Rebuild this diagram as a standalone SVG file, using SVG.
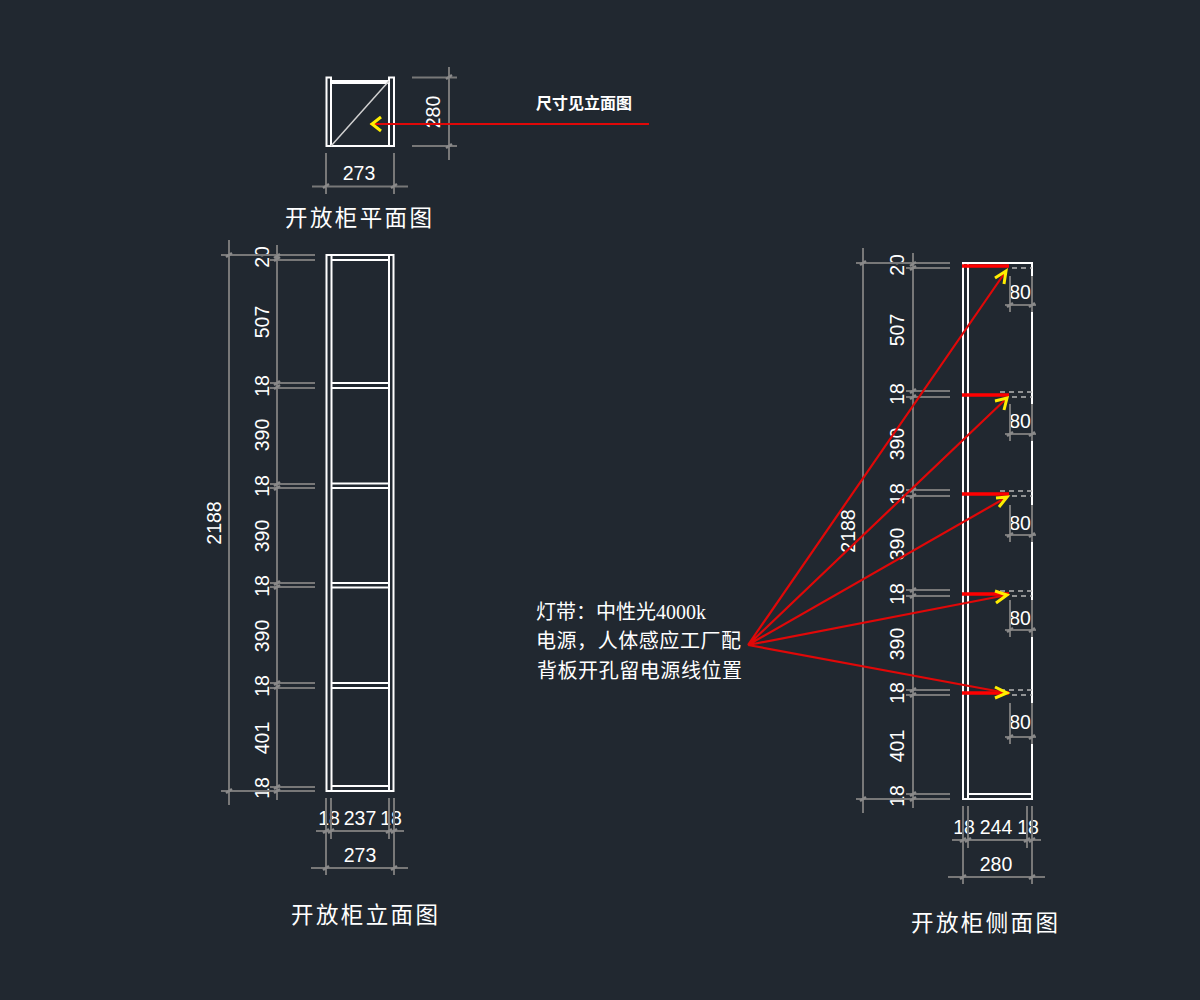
<svg xmlns="http://www.w3.org/2000/svg" width="1200" height="1000" viewBox="0 0 1200 1000">
<style>
.o{fill:none;stroke:#fff;stroke-width:2}
.t{fill:none;stroke:#d0d0d0;stroke-width:1.500}
.d{fill:none;stroke:#787878;stroke-width:2}
.k{fill:none;stroke:#8a8a8a;stroke-width:2.500}
.da{fill:none;stroke:#b5b5b5;stroke-width:1.500;stroke-dasharray:5 4}
.r{fill:none;stroke:#e00808;stroke-width:2.200}
.b{fill:none;stroke:#ff0000;stroke-width:3.500}
.y{fill:none;stroke:#ffee00;stroke-width:3}
text{fill:#fff;font-family:"Liberation Sans","Noto Sans CJK SC",sans-serif}
.n{font-size:19.500px;text-anchor:middle;dominant-baseline:central}
.c{font-family:"Noto Sans CJK SC","Liberation Sans",sans-serif;font-size:22.500px;letter-spacing:2.400px}
.l{font-family:"Liberation Serif","Noto Sans CJK SC",serif;font-size:20px}
</style>
<rect width="1200" height="1000" fill="#212830"/>
<g id="plan">
<path class="o" d="M326.500 77.500H331V146H326.500ZM389 77.500H394V146H389ZM331 81H389M331 83H389M331 146H389"/>
<path class="t" d="M331 146L389 81"/>
<text class="n" transform="translate(433 112) rotate(-90)">280</text>
<text class="n" x="359" y="173">273</text>
<text x="536" y="109" font-size="16" font-weight="bold" style="font-family:'Noto Sans CJK SC',sans-serif">尺寸见立面图</text>
<text class="c" x="285" y="226">开放柜平面图</text>
</g>
<g id="elevation">
<path class="o" d="M326.500 255H393.500V791H326.500ZM331.500 255V791M389 255V791M331.500 260H389M331.500 383H389M331.500 388H389M331.500 483.500H389M331.500 488H389M331.500 583H389M331.500 587.500H389M331.500 683H389M331.500 688H389M331.500 786H389"/>
<text class="n" transform="translate(262 257) rotate(-90)">20</text>
<text class="n" transform="translate(262 322) rotate(-90)">507</text>
<text class="n" transform="translate(262 386) rotate(-90)">18</text>
<text class="n" transform="translate(262 435) rotate(-90)">390</text>
<text class="n" transform="translate(262 486) rotate(-90)">18</text>
<text class="n" transform="translate(262 536) rotate(-90)">390</text>
<text class="n" transform="translate(262 586) rotate(-90)">18</text>
<text class="n" transform="translate(262 636) rotate(-90)">390</text>
<text class="n" transform="translate(262 686) rotate(-90)">18</text>
<text class="n" transform="translate(262 738) rotate(-90)">401</text>
<text class="n" transform="translate(262 788) rotate(-90)">18</text>
<text class="n" transform="translate(214 523) rotate(-90)">2188</text>
<text class="n" x="329" y="818">18</text>
<text class="n" x="360" y="818">237</text>
<text class="n" x="391" y="818">18</text>
<text class="n" x="360" y="855">273</text>
<text class="c" x="291" y="923">开放柜立面图</text>
</g>
<g id="side">
<path class="o" d="M963 263H1032V799H963ZM968 263V799M968 794H1032"/>
<path class="da" d="M1012 268H1032M1000 392H1032M1012 397H1032M1000 491H1032M1012 496H1032M1000 591H1032M1012 596H1032M1000 690H1032M1012 695H1032"/>
<path class="b" d="M962 266H1009M962 395H1009M962 494H1009M962 594H1009M962 693H1009"/>
<text class="n" transform="translate(897 265) rotate(-90)">20</text>
<text class="n" transform="translate(897 330) rotate(-90)">507</text>
<text class="n" transform="translate(897 394) rotate(-90)">18</text>
<text class="n" transform="translate(897 444) rotate(-90)">390</text>
<text class="n" transform="translate(897 494) rotate(-90)">18</text>
<text class="n" transform="translate(897 544) rotate(-90)">390</text>
<text class="n" transform="translate(897 594) rotate(-90)">18</text>
<text class="n" transform="translate(897 644) rotate(-90)">390</text>
<text class="n" transform="translate(897 693) rotate(-90)">18</text>
<text class="n" transform="translate(897 746) rotate(-90)">401</text>
<text class="n" transform="translate(897 796) rotate(-90)">18</text>
<text class="n" transform="translate(848 531) rotate(-90)">2188</text>
<text class="n" x="1020" y="292">80</text>
<text class="n" x="1020" y="421">80</text>
<text class="n" x="1020" y="523">80</text>
<text class="n" x="1020" y="618">80</text>
<text class="n" x="1020" y="722">80</text>
<text class="n" x="964" y="827">18</text>
<text class="n" x="996" y="827">244</text>
<text class="n" x="1028" y="827">18</text>
<text class="n" x="996" y="864">280</text>
<text class="c" x="911" y="931">开放柜侧面图</text>
</g>
<g id="note">
<text class="l" x="536" y="619">灯带：中性光4000k</text>
<text class="l" x="536" y="648" textLength="205">电源，人体感应工厂配</text>
<text class="l" x="537" y="678" textLength="205">背板开孔留电源线位置</text>
</g>
<g id="connectors">
<path class="d" d="M412 77.500H457M412 146H457M449 67V160M326 153V194M394 153V194M312 186.500H408"/>
<path class="d" d="M229 240V805M221 255H315M277 245V800M270 260H315M270 383H315M270 388H315M270 484H315M270 488H315M270 583H315M270 587H315M270 683H315M270 688H315M270 787H315M221 791H315"/>
<path class="d" d="M326 798V875M331 798V839M389 798V839M394 798V875M316 831H404M311 868H408"/>
<path class="d" d="M863 248V813M856 263H950M913 253V808M906 268H950M906 391H950M906 397H950M906 490H950M906 496H950M906 590H950M906 596H950M906 690H950M906 695H950M906 794H950M856 799H950"/>
<path class="d" d="M963 806V884M968 806V848M1027 806V848M1032 806V884M952 840H1041M948 877H1045"/>
<path class="d" d="M1010 276V312M1032 276V312M1005 305H1036M1010 404V441M1032 404V441M1005 434H1036M1010 505V542M1032 505V542M1005 535H1036M1010 600V637M1032 600V637M1005 630H1036M1010 703V744M1032 703V744M1005 737H1036"/>
<path class="k" d="M274 258l6 -4M274 261l6 -4M274 385l6 -4M274 389l6 -4M274 486l6 -4M274 490l6 -4M274 585l6 -4M274 589l6 -4M274 685l6 -4M274 689l6 -4M274 789l6 -4M274 793l6 -4M910 266l6 -4M910 270l6 -4M910 393l6 -4M910 399l6 -4M910 492l6 -4M910 498l6 -4M910 592l6 -4M910 598l6 -4M910 692l6 -4M910 697l6 -4M910 796l6 -4M910 801l6 -4"/>
<path class="k" d="M323 833l6 -4M328 833l6 -4M386 833l6 -4M391 833l6 -4M323 870l6 -4M391 870l6 -4M960 842l6 -4M965 842l6 -4M1024 842l6 -4M1029 842l6 -4M960 879l6 -4M1029 879l6 -4M226 257l6 -4M226 793l6 -4M860 265l6 -4M860 801l6 -4M323 188l6 -4M391 188l6 -4M446 79l6 -4M446 148l6 -4M1007 307l6 -4M1029 307l6 -4M1007 436l6 -4M1029 436l6 -4M1007 537l6 -4M1029 537l6 -4M1007 632l6 -4M1029 632l6 -4M1007 739l6 -4M1029 739l6 -4"/>
<path class="r" d="M649 124H370M748 645L1006 271M748 645L1007 398M748 645L1007 497M748 645L1007 595M748 645L1007 693"/>
<path class="y" d="M381 117L372 124L381 131M995 278L1006 271L1004 284M995 401L1007 398L1004 410M996 498L1007 497L999 507M995 591L1007 595L996 603M995 687L1007 693L995 698"/>
</g>
</svg>
